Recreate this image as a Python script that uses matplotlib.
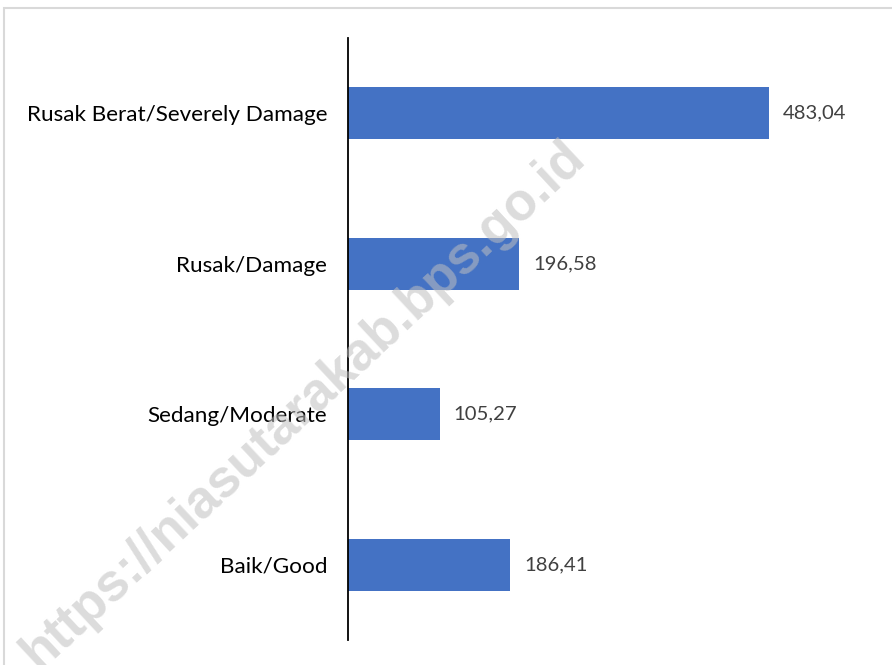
import matplotlib
matplotlib.use("Agg")
import matplotlib.pyplot as plt
from matplotlib.patches import Rectangle

# data (bottom to top as drawn)
categories = ["Baik/Good", "Sedang/Moderate", "Rusak/Damage", "Rusak Berat/Severely Damage"]
values = [186.41, 105.27, 196.58, 483.04]

W, H = 892, 665
fig = plt.figure(figsize=(W / 100, H / 100), dpi=100)
fig.patch.set_facecolor("white")

ax = fig.add_axes([348 / W, 1 - 640 / H, (871 - 348) / W, (640 - 38) / H])
ax.barh(range(len(categories)), values, height=0.347, color="#4472C4", zorder=2)
ax.set_xlim(0, 600)
ax.set_ylim(-0.5, len(categories) - 0.5)

ax.set_yticks(range(len(categories)))
ax.set_yticklabels(categories, fontsize=16.2, family="Lato", color="black")
ax.tick_params(axis="y", length=0, pad=15)
ax.set_xticks([])
for side in ["top", "right", "bottom"]:
    ax.spines[side].set_visible(False)
ax.spines["left"].set_linewidth(1.3)
ax.spines["left"].set_color("black")
ax.patch.set_alpha(0)

for i, v in enumerate(values):
    ax.annotate(f"{v:.2f}".replace(".", ","), xy=(v, i), xytext=(14, 0),
                textcoords="offset pixels", va="center", ha="left",
                fontsize=14.6, family="Lato", color="#404040")

# chart border
fig.add_artist(Rectangle((4 / W, -0.1), 2, 1.1 - 8 / H, transform=fig.transFigure,
                         fill=False, edgecolor="#d9d9d9", linewidth=1.5))

# watermark
fig.text(303 / W, 1 - 405 / H, "https://niasutarakab.bps.go.id", fontsize=38,
         family="Liberation Sans", fontweight="bold", color="#bfbfbf", alpha=0.55,
         rotation=43, ha="center", va="center", rotation_mode="anchor", zorder=10)

fig.savefig("out.png", dpi=100, facecolor="white")
